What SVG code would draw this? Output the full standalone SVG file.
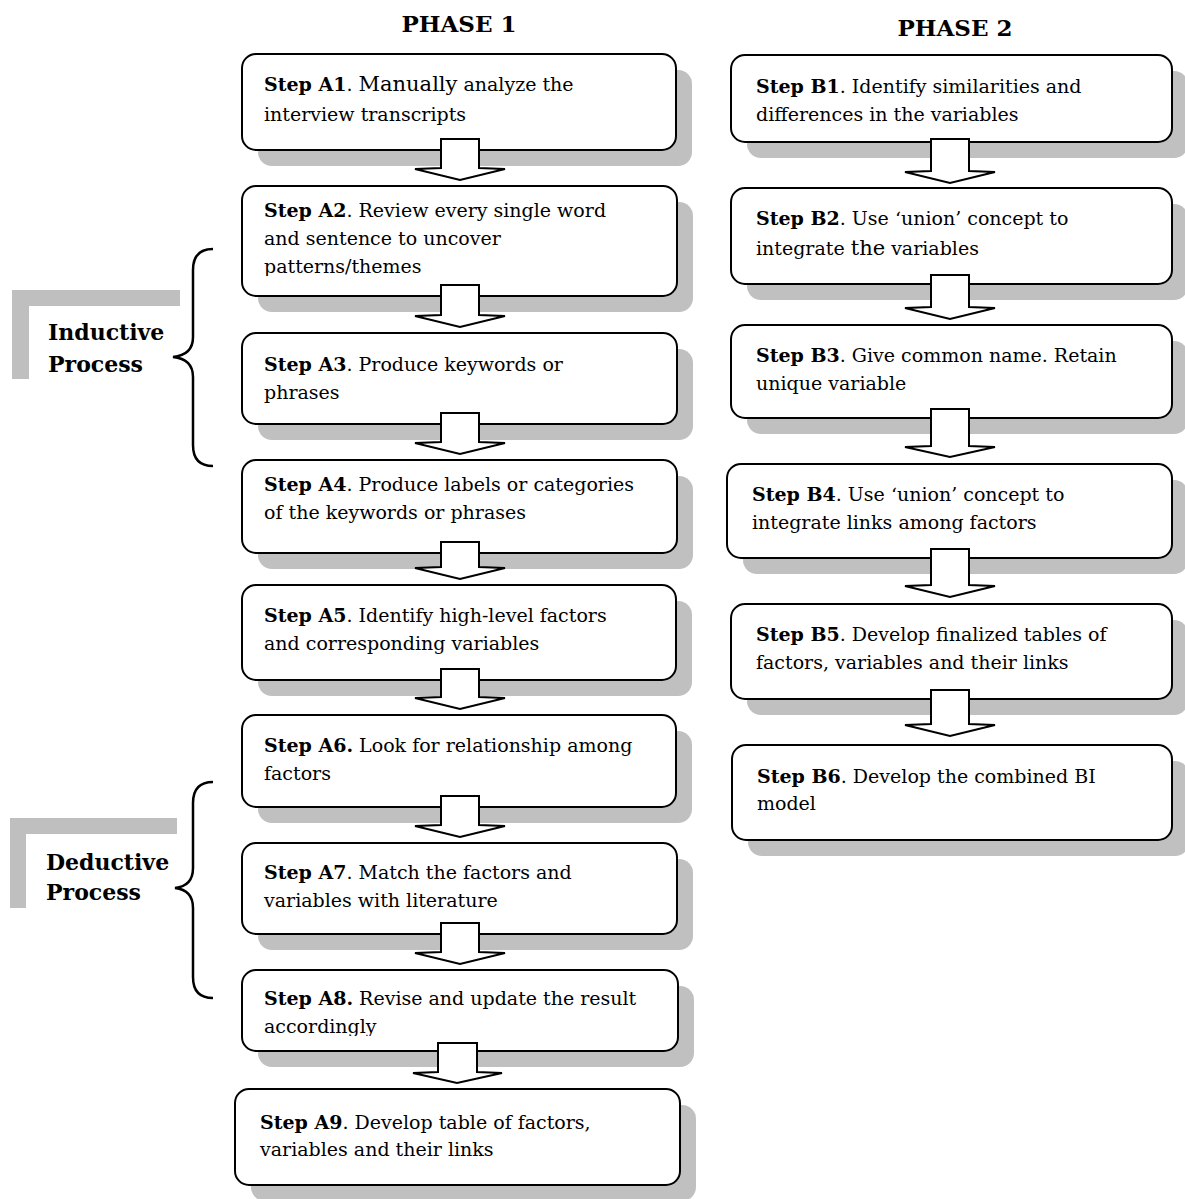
<svg xmlns="http://www.w3.org/2000/svg" width="1185" height="1199" viewBox="0 0 1185 1199">
<style>
.sh{fill:#c0c0c0;stroke:none}
.bx{fill:#fff;stroke:#000;stroke-width:2}
.t{font-family:"DejaVu Serif","Liberation Serif",serif;font-size:19px;fill:#000}
.b{font-weight:bold}
.big{font-size:21px}
.ttl{font-family:"DejaVu Serif","Liberation Serif",serif;font-size:23px;font-weight:bold;fill:#000}
.lab{font-family:"DejaVu Serif","Liberation Serif",serif;font-size:22px;font-weight:bold;fill:#000}
.ar{fill:#fff;stroke:#000;stroke-width:2;stroke-linejoin:miter}
.br{fill:none;stroke:#000;stroke-width:2.5}
.gl{fill:#bfbfbf}
</style>
<defs>
<clipPath id="cA2"><rect x="242" y="186" width="435" height="90"/></clipPath>
<clipPath id="cA8"><rect x="242" y="970" width="436" height="66"/></clipPath>
</defs>
<rect width="1185" height="1199" fill="#fff"/>

<text class="ttl" x="459" y="32" text-anchor="middle">PHASE 1</text>
<text class="ttl" x="955" y="36" text-anchor="middle">PHASE 2</text>

<g id="inductive">
<polygon class="gl" points="12,290 180,290 180,306 29,306 29,379 12,379"/>
<text class="lab" x="48" y="340">Inductive</text>
<text class="lab" x="48" y="372">Process</text>
<path class="br" d="M213,249 Q193,249 193,270 L193,337 Q193,355 173,357 Q193,359 193,377 L193,445 Q193,466 213,466"/>
</g>
<g id="deductive">
<polygon class="gl" points="10,818 177,818 177,834 26,834 26,908 10,908"/>
<text class="lab" x="46" y="870">Deductive</text>
<text class="lab" x="46" y="900">Process</text>
<path class="br" d="M213,782 Q193,782 193,803 L193,868 Q193,886 175,888 Q193,890 193,908 L193,977 Q193,998 213,998"/>
</g>

<g id="A1"><rect class="sh" x="258" y="70" width="434" height="96" rx="14"/><rect class="bx" x="242" y="54" width="434" height="96" rx="14"/>
<text class="t" x="264" y="91"><tspan class="b">Step A1</tspan>. <tspan class="big">Manually</tspan> analyze the</text>
<text class="t" x="264" y="121">interview transcripts</text></g>

<g id="A2"><rect class="sh" x="258" y="202" width="435" height="110" rx="14"/><rect class="bx" x="242" y="186" width="435" height="110" rx="14"/>
<g clip-path="url(#cA2)"><text class="t" x="264" y="217"><tspan class="b">Step A2</tspan>. Review every single word</text>
<text class="t" x="264" y="245">and sentence to uncover</text>
<text class="t" x="264" y="273">patterns/themes</text></g></g>

<g id="A3"><rect class="sh" x="258" y="349" width="435" height="91" rx="14"/><rect class="bx" x="242" y="333" width="435" height="91" rx="14"/>
<text class="t" x="264" y="371"><tspan class="b">Step A3</tspan>. Produce keywords or</text>
<text class="t" x="264" y="399">phrases</text></g>

<g id="A4"><rect class="sh" x="258" y="476" width="435" height="93" rx="14"/><rect class="bx" x="242" y="460" width="435" height="93" rx="14"/>
<text class="t" x="264" y="491"><tspan class="b">Step A4</tspan>. Produce labels or categories</text>
<text class="t" x="264" y="519">of the keywords or phrases</text></g>

<g id="A5"><rect class="sh" x="258" y="601" width="434" height="95" rx="14"/><rect class="bx" x="242" y="585" width="434" height="95" rx="14"/>
<text class="t" x="264" y="622"><tspan class="b">Step A5</tspan>. Identify high-level factors</text>
<text class="t" x="264" y="650">and corresponding variables</text></g>

<g id="A6"><rect class="sh" x="258" y="731" width="434" height="92" rx="14"/><rect class="bx" x="242" y="715" width="434" height="92" rx="14"/>
<text class="t" x="264" y="752"><tspan class="b">Step A6.</tspan> Look for relationship among</text>
<text class="t" x="264" y="780">factors</text></g>

<g id="A7"><rect class="sh" x="258" y="859" width="435" height="91" rx="14"/><rect class="bx" x="242" y="843" width="435" height="91" rx="14"/>
<text class="t" x="264" y="879"><tspan class="b">Step A7</tspan>. Match the factors and</text>
<text class="t" x="264" y="907">variables with literature</text></g>

<g id="A8"><rect class="sh" x="258" y="986" width="436" height="81" rx="14"/><rect class="bx" x="242" y="970" width="436" height="81" rx="14"/>
<g clip-path="url(#cA8)"><text class="t" x="264" y="1005"><tspan class="b">Step A8.</tspan> Revise and update the result</text>
<text class="t" x="264" y="1033">accordingly</text></g></g>

<g id="A9"><rect class="sh" x="251" y="1105" width="445" height="96" rx="14"/><rect class="bx" x="235" y="1089" width="445" height="96" rx="14"/>
<text class="t" x="260" y="1129"><tspan class="b">Step A9</tspan>. Develop table of factors,</text>
<text class="t" x="260" y="1156">variables and their links</text></g>

<g id="B1"><rect class="sh" x="747" y="71" width="441" height="87" rx="14"/><rect class="bx" x="731" y="55" width="441" height="87" rx="14"/>
<text class="t" x="756" y="93"><tspan class="b">Step B1</tspan>. Identify similarities and</text>
<text class="t" x="756" y="121">differences in the variables</text></g>

<g id="B2"><rect class="sh" x="747" y="204" width="441" height="96" rx="14"/><rect class="bx" x="731" y="188" width="441" height="96" rx="14"/>
<text class="t" x="756" y="225"><tspan class="b">Step B2</tspan>. Use ‘union’ concept to</text>
<text class="t" x="756" y="255">integrate <tspan class="big">the</tspan> variables</text></g>

<g id="B3"><rect class="sh" x="747" y="341" width="441" height="93" rx="14"/><rect class="bx" x="731" y="325" width="441" height="93" rx="14"/>
<text class="t" x="756" y="362"><tspan class="b">Step B3</tspan>. Give common name. Retain</text>
<text class="t" x="756" y="390">unique variable</text></g>

<g id="B4"><rect class="sh" x="743" y="480" width="445" height="94" rx="14"/><rect class="bx" x="727" y="464" width="445" height="94" rx="14"/>
<text class="t" x="752" y="501"><tspan class="b">Step B4</tspan>. Use ‘union’ concept to</text>
<text class="t" x="752" y="529">integrate links among factors</text></g>

<g id="B5"><rect class="sh" x="747" y="620" width="441" height="95" rx="14"/><rect class="bx" x="731" y="604" width="441" height="95" rx="14"/>
<text class="t" x="756" y="641"><tspan class="b">Step B5</tspan>. Develop finalized tables of</text>
<text class="t" x="756" y="669">factors, variables and their links</text></g>

<g id="B6"><rect class="sh" x="748" y="761" width="441" height="95" rx="14"/><rect class="bx" x="732" y="745" width="440" height="95" rx="14"/>
<text class="t" x="757" y="783"><tspan class="b">Step B6</tspan>. Develop the combined BI</text>
<text class="t" x="757" y="810">model</text></g>

<g id="connectors">
<polygon class="ar" points="441,139 479,139 479,168 505,169 460,180 415,169 441,168"/>
<polygon class="ar" points="441,285 479,285 479,315 505,316 460,327 415,316 441,315"/>
<polygon class="ar" points="441,413 479,413 479,442 505,443 460,454 415,443 441,442"/>
<polygon class="ar" points="441,542 479,542 479,567 505,568 460,579 415,568 441,567"/>
<polygon class="ar" points="441,669 479,669 479,697 505,698 460,709 415,698 441,697"/>
<polygon class="ar" points="441,796 479,796 479,825 505,826 460,837 415,826 441,825"/>
<polygon class="ar" points="441,923 479,923 479,952 505,953 460,964 415,953 441,952"/>
<polygon class="ar" points="438,1043 477,1043 477,1072 502,1073 457,1083 413,1073 438,1072"/>
<polygon class="ar" points="931,139 969,139 969,171 995,172 950,183 905,172 931,171"/>
<polygon class="ar" points="931,275 969,275 969,307 995,308 950,319 905,308 931,307"/>
<polygon class="ar" points="931,409 969,409 969,446 995,447 950,457 905,447 931,446"/>
<polygon class="ar" points="931,549 969,549 969,585 995,586 950,597 905,586 931,585"/>
<polygon class="ar" points="931,690 969,690 969,724 995,725 950,736 905,725 931,724"/>
</g>
</svg>
